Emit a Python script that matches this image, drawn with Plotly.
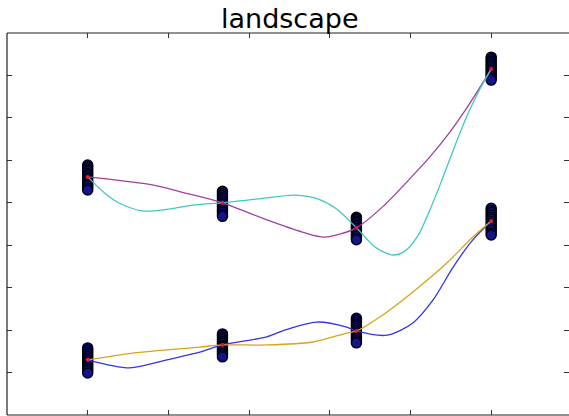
import plotly.graph_objects as go

# Positions of the four measurement stages
stages = [1.0, 2.67, 4.33, 6.0]

# Repeated measurements at each stage, upper and lower groups
upper_samples = [
    [5.89, 5.84, 5.79, 5.74, 5.69, 5.64, 5.59, 5.54, 5.49, 5.44, 5.40, 5.35, 5.30],
    [5.27, 5.22, 5.17, 5.12, 5.07, 5.02, 4.97, 4.92, 4.87, 4.82, 4.78, 4.73, 4.68],
    [4.66, 4.62, 4.57, 4.53, 4.48, 4.44, 4.40, 4.35, 4.31, 4.26, 4.22, 4.17, 4.13],
    [8.43, 8.39, 8.34, 8.30, 8.25, 8.21, 8.16, 8.12, 8.07, 8.03, 7.98, 7.94, 7.89],
]
lower_samples = [
    [1.58, 1.53, 1.48, 1.43, 1.38, 1.33, 1.29, 1.24, 1.19, 1.14, 1.09, 1.04, 0.99],
    [1.91, 1.87, 1.82, 1.78, 1.73, 1.69, 1.64, 1.60, 1.55, 1.51, 1.46, 1.42, 1.37],
    [2.28, 2.23, 2.18, 2.13, 2.09, 2.04, 1.99, 1.94, 1.89, 1.84, 1.80, 1.75, 1.70],
    [4.87, 4.82, 4.77, 4.71, 4.66, 4.61, 4.56, 4.50, 4.45, 4.40, 4.35, 4.29, 4.24],
]

# Stage means
upper_mean = [5.61, 5.00, 4.41, 8.15]
lower_mean = [1.30, 1.65, 1.98, 4.57]

# Fitted landscape curves (x, y)
magenta_x = [1.00, 1.80, 2.21, 2.67, 3.23, 3.66, 3.94, 4.33, 4.68, 4.93, 5.24, 5.49, 5.73, 6.00]
magenta_y = [5.61, 5.42, 5.23, 5.00, 4.59, 4.31, 4.19, 4.41, 4.95, 5.44, 6.08, 6.67, 7.33, 8.15]

cyan_x = [1.00, 1.21, 1.38, 1.67, 2.00, 2.33, 2.67, 3.11, 3.57, 3.85, 4.10, 4.33,
          4.56, 4.78, 4.93, 5.09, 5.24, 5.39, 5.55, 5.71, 5.86, 6.00]
cyan_y = [5.61, 5.23, 5.00, 4.81, 4.85, 4.95, 5.00, 5.09, 5.18, 5.09, 4.83, 4.41,
          3.96, 3.77, 3.86, 4.22, 4.83, 5.54, 6.34, 7.09, 7.68, 8.15]

blue_x = [1.00, 1.52, 1.98, 2.39, 2.67, 3.22, 3.44, 3.84, 4.21, 4.33, 4.71, 5.03,
          5.28, 5.53, 5.77, 6.00]
blue_y = [1.30, 1.11, 1.30, 1.48, 1.65, 1.84, 2.00, 2.19, 2.07, 1.98, 1.88, 2.17,
          2.71, 3.49, 4.12, 4.57]

gold_x = [1.00, 1.56, 2.39, 2.67, 3.22, 3.79, 4.21, 4.33, 4.62, 5.03, 5.45, 5.77, 6.00]
gold_y = [1.30, 1.46, 1.60, 1.65, 1.65, 1.72, 1.93, 1.98, 2.31, 2.90, 3.58, 4.19, 4.57]

x_ticks = [1, 2, 3, 4, 5, 6]
y_ticks = [1, 2, 3, 4, 5, 6, 7, 8]

fig = go.Figure()

# Sample clusters
for group in (upper_samples, lower_samples):
    for xs, vals in zip(stages, group):
        fig.add_trace(go.Scatter(
            x=[xs] * len(vals), y=vals, mode="markers",
            marker=dict(size=10, color="#14148c",
                        line=dict(color="#000014", width=1.5)),
            hoverinfo="skip"))

# Curves
for cx, cy, col in ((magenta_x, magenta_y, "#a040a0"),
                    (cyan_x, cyan_y, "#40c8c4"),
                    (blue_x, blue_y, "#3434e6"),
                    (gold_x, gold_y, "#d8a41c")):
    fig.add_trace(go.Scatter(x=cx, y=cy, mode="lines",
                             line=dict(color=col, width=1.3, shape="spline", smoothing=0.8),
                             hoverinfo="skip"))

# Means
fig.add_trace(go.Scatter(x=stages + stages, y=upper_mean + lower_mean, mode="markers",
                         marker=dict(size=4, color="#e02020"), hoverinfo="skip"))

axis_common = dict(ticks="inside", ticklen=5, tickwidth=1, tickcolor="#333333",
                   mirror="ticks", showline=False, showgrid=False, zeroline=False,
                   showticklabels=False)

fig.update_layout(
    width=569, height=416,
    margin=dict(l=7, r=0, t=33, b=1),
    paper_bgcolor="white", plot_bgcolor="white",
    showlegend=False,
    xaxis=dict(range=[0, 6.964], tickvals=x_ticks, **axis_common),
    yaxis=dict(range=[0, 9], tickvals=y_ticks, **axis_common),
    shapes=[
        dict(type="line", xref="paper", yref="paper", x0=0, x1=0, y0=0, y1=1,
             line=dict(color="#222222", width=1.2)),
        dict(type="line", xref="paper", yref="paper", x0=0, x1=1, y0=1, y1=1,
             line=dict(color="#222222", width=1.2)),
        dict(type="line", xref="paper", yref="paper", x0=0, x1=1, y0=0, y1=0,
             line=dict(color="#222222", width=1.2)),
    ],
    annotations=[dict(text="landscape", xref="paper", yref="paper",
                      x=0.5036, y=1.039, xanchor="center", yanchor="middle",
                      showarrow=False,
                      font=dict(family="DejaVu Sans", size=27, color="black"))],
)

fig.write_html("out.html")
